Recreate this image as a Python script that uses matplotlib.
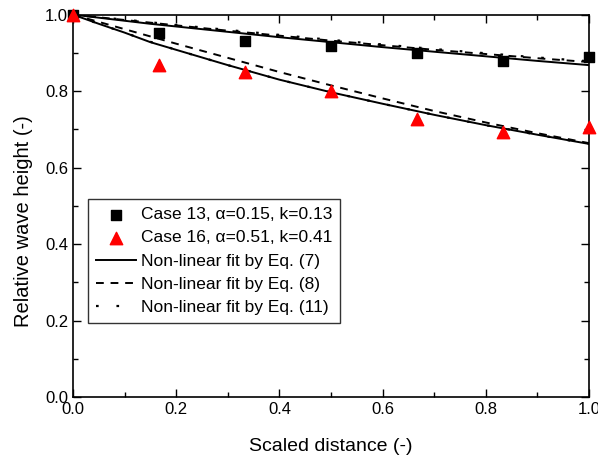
import matplotlib.pyplot as plt
import numpy as np

plt.rcParams["font.family"] = ["Liberation Sans", "DejaVu Sans"]

# measured points
x_meas = [0.0, 1 / 6, 2 / 6, 3 / 6, 4 / 6, 5 / 6, 1.0]
case13 = [1.0, 0.952, 0.930, 0.918, 0.900, 0.878, 0.890]
case16 = [1.0, 0.868, 0.850, 0.800, 0.727, 0.692, 0.705]

# fitted curves
x_fit = [0.0, 0.05, 0.1, 0.15, 0.2, 0.3, 0.4, 0.5, 0.6, 0.7, 0.8, 0.9, 1.0]
fit7_13 = [1.0, 0.992, 0.984, 0.976, 0.969, 0.955, 0.941, 0.928, 0.915,
           0.903, 0.891, 0.879, 0.868]
fit8_13 = [1.0, 0.993, 0.986, 0.979, 0.972, 0.958, 0.945, 0.932, 0.920,
           0.908, 0.897, 0.886, 0.876]
fit11_13 = [1.0, 0.993, 0.987, 0.980, 0.973, 0.960, 0.947, 0.934, 0.922,
            0.910, 0.899, 0.888, 0.878]
fit7_16 = [1.0, 0.976, 0.953, 0.928, 0.908, 0.868, 0.830, 0.797, 0.767,
           0.738, 0.711, 0.686, 0.662]
fit8_16 = [1.0, 0.981, 0.962, 0.943, 0.924, 0.887, 0.850, 0.815, 0.781,
           0.748, 0.718, 0.690, 0.664]
fit11_16 = [1.0, 0.976, 0.953, 0.929, 0.908, 0.868, 0.830, 0.797, 0.767,
            0.738, 0.711, 0.686, 0.662]

figure = plt.figure(figsize=(5.98, 4.57), dpi=100)
axis = figure.add_axes([0.122, 0.131, 0.863, 0.837])

solid = dict(color="black", linewidth=1.4, linestyle="-")
dashed = dict(color="black", linewidth=1.4, linestyle=(0, (4, 3.5)))
dotted = dict(color="black", linewidth=1.6, linestyle=(0, (1.2, 8)))

axis.plot(x_fit, fit7_13, **solid)
axis.plot(x_fit, fit8_13, **dashed)
axis.plot(x_fit, fit11_13, **dotted)
axis.plot(x_fit, fit7_16, **solid)
axis.plot(x_fit, fit8_16, **dashed)
axis.plot(x_fit, fit11_16, **dotted)

h13 = axis.scatter(x_meas, case13, marker="s", s=50, color="black",
                   zorder=3, clip_on=False)
h16 = axis.scatter(x_meas, case16, marker="^", s=80, color="red",
                   zorder=3, clip_on=False)

(l7,) = axis.plot([], [], **solid)
(l8,) = axis.plot([], [], **dashed)
(l11,) = axis.plot([], [], **dotted)

legend = axis.legend(
    [h13, h16, l7, l8, l11],
    [
        "Case 13, \u03b1=0.15, k=0.13",
        "Case 16, \u03b1=0.51, k=0.41",
        "Non-linear fit by Eq. (7)",
        "Non-linear fit by Eq. (8)",
        "Non-linear fit by Eq. (11)",
    ],
    loc="upper left",
    bbox_to_anchor=(0.029, 0.517),
    fontsize=12.5,
    frameon=True,
    fancybox=False,
    edgecolor="black",
    handlelength=2.3,
    handletextpad=0.3,
    borderpad=0.45,
    labelspacing=0.46,
    borderaxespad=0,
)
legend.get_frame().set_linewidth(1.0)

axis.set_xlim(0, 1)
axis.set_ylim(0, 1)
axis.set_xticks(np.arange(0, 1.01, 0.2))
axis.set_yticks(np.arange(0, 1.01, 0.2))
axis.set_xticks(np.arange(0.1, 1.0, 0.2), minor=True)
axis.set_yticks(np.arange(0.1, 1.0, 0.2), minor=True)
axis.xaxis.set_major_formatter(plt.FormatStrFormatter("%.1f"))
axis.yaxis.set_major_formatter(plt.FormatStrFormatter("%.1f"))
axis.tick_params(which="both", direction="in", top=True, right=True,
                 labelsize=12, width=1.0)
axis.tick_params(which="major", length=6)
axis.tick_params(which="minor", length=3.5)
for spine in axis.spines.values():
    spine.set_linewidth(1.2)

axis.set_xlabel("Scaled distance (-)", fontsize=14, labelpad=15)
axis.set_ylabel("Relative wave height (-)", fontsize=14.5)
axis.yaxis.set_label_coords(-0.078, 0.46)

figure.savefig("out.png", dpi=100)
